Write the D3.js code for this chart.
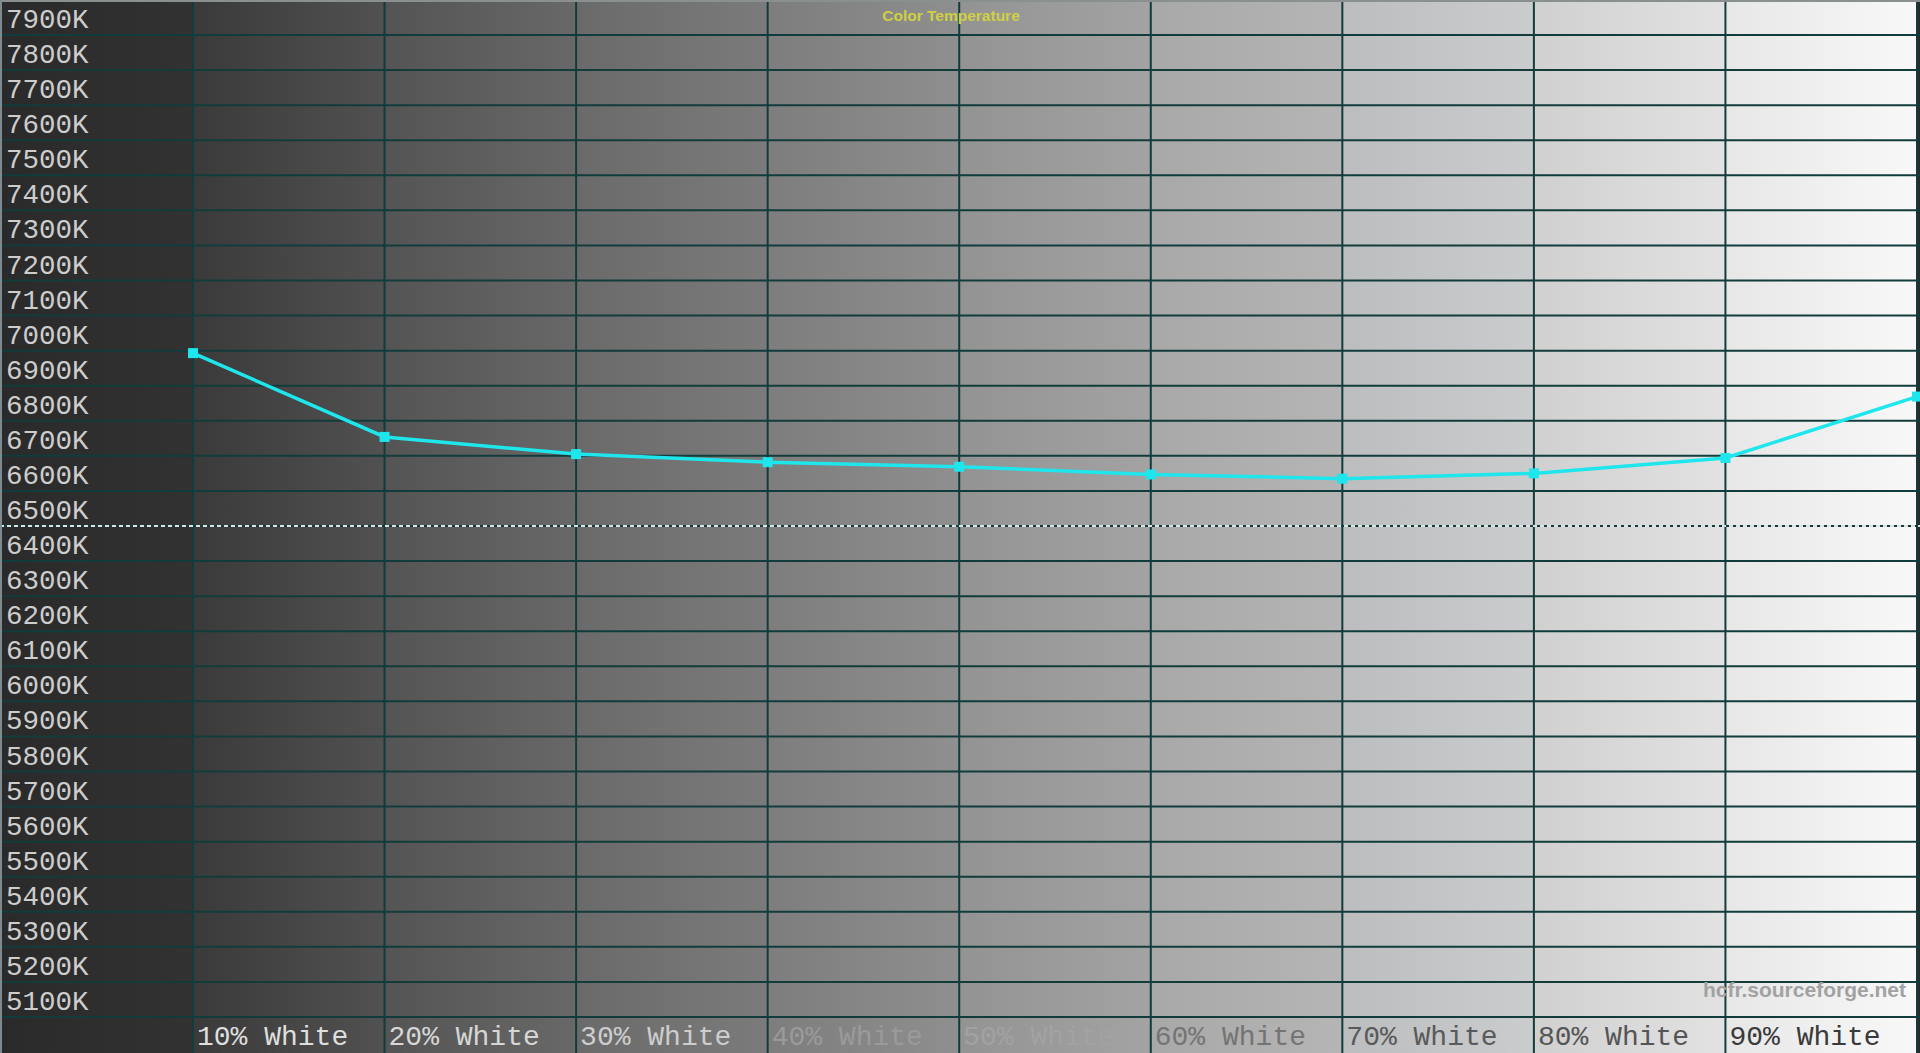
<!DOCTYPE html>
<html>
<head>
<meta charset="utf-8">
<script src="https://cdn.jsdelivr.net/npm/d3@7"></script>
<style>
  html, body { margin: 0; padding: 0; background: #2a2a2a; overflow: hidden; }
  svg { display: block; }
</style>
</head>
<body>
<svg width="1920" height="1053"></svg>
<script>
// measurement points (x axis)
const categories = ["10% White", "20% White", "30% White", "40% White", "50% White",
                    "60% White", "70% White", "80% White", "90% White", "100% White"];
// colour temperature, in K
const colorTemp = [6993, 6754, 6705, 6682, 6669, 6647, 6635, 6650, 6694, 6869];
// y tick labels
const yTicks = [5100, 5200, 5300, 5400, 5500, 5600, 5700, 5800, 5900, 6000,
                6100, 6200, 6300, 6400, 6500, 6600, 6700, 6800, 6900, 7000,
                7100, 7200, 7300, 7400, 7500, 7600, 7700, 7800, 7900, 8000];
const reference = 6500;

// grey steps of the background, one per column (left edge, right edge)
const bandColors = [
    ["#2a2a2a", "#323232"], ["#3a3a3a", "#515151"], ["#545454", "#686868"],
    ["#6a6a6a", "#7b7b7b"], ["#7d7d7d", "#8f8f8f"], ["#939393", "#a3a3a3"],
    ["#a8a8a8", "#b5b5b5"], ["#bbbdbe", "#cacccd"], ["#d0d0d0", "#e2e2e2"],
    ["#e7e7e7", "#f8f8f8"]
];
const labelColors = ["#dedede", "#d6d6d6", "#cdcdcd", "#9a9a9a", "#a2a2a2",
                     "#747474", "#5a5a5a", "#555555", "#3a3a3a"];

const W = 1920, H = 1053;
const svg = d3.select("svg");
const defs = svg.append("defs");

const x = d3.scalePoint()
    .domain(categories)
    .range([193, 1917]);

const y = d3.scaleLinear()
    .domain([5100, 7900])
    .range([1017, 35]);

// background bands
const edges = [0, ...categories.map(c => x(c))];
bandColors.forEach((c, i) => {
    const g = defs.append("linearGradient")
        .attr("id", "band" + i)
        .attr("x1", 0).attr("x2", 1).attr("y1", 0).attr("y2", 0);
    g.append("stop").attr("offset", 0).attr("stop-color", c[0]);
    g.append("stop").attr("offset", 1).attr("stop-color", c[1]);
});
svg.selectAll("rect.band")
    .data(bandColors)
    .enter()
    .append("rect")
    .attr("class", "band")
    .attr("x", (_, i) => edges[i])
    .attr("y", 0)
    .attr("width", (_, i) => (i + 1 < edges.length ? edges[i + 1] : W) - edges[i])
    .attr("height", H)
    .attr("fill", (_, i) => `url(#band${i})`);

// horizontal grid
svg.append("g")
    .selectAll("line")
    .data(yTicks)
    .enter()
    .append("line")
    .attr("x1", 0).attr("x2", W)
    .attr("y1", d => y(d)).attr("y2", d => y(d))
    .attr("stroke", "#123c3c")
    .attr("stroke-width", 2);

// vertical grid
svg.append("g")
    .selectAll("line")
    .data(categories)
    .enter()
    .append("line")
    .attr("x1", d => x(d)).attr("x2", d => x(d))
    .attr("y1", 0).attr("y2", H)
    .attr("stroke", "#123c3c")
    .attr("stroke-width", 2);

// 6500K reference, dashed
svg.append("line")
    .attr("x1", 0).attr("x2", W)
    .attr("y1", y(reference)).attr("y2", y(reference))
    .attr("stroke", "#f4f4f4")
    .attr("stroke-opacity", 0.9)
    .attr("stroke-width", 2)
    .attr("stroke-dasharray", "4,3");

// y labels sit just above their line
svg.append("g")
    .selectAll("text")
    .data(yTicks.filter(d => d <= 7900))
    .enter()
    .append("text")
    .attr("x", 6)
    .attr("y", d => y(d) - 7)
    .attr("font-family", "'Courier New', 'Liberation Mono', monospace")
    .attr("font-size", 27.5)
    .attr("fill", "#cdcdcd")
    .text(d => d + "K");

// x labels
svg.append("g")
    .selectAll("text")
    .data(categories.slice(0, 9))
    .enter()
    .append("text")
    .attr("x", d => x(d) + 4)
    .attr("y", 1045)
    .attr("font-family", "'Courier New', 'Liberation Mono', monospace")
    .attr("font-size", 28)
    .attr("fill", (_, i) => labelColors[i])
    .text(d => d);

// title
svg.append("text")
    .attr("x", 951)
    .attr("y", 21)
    .attr("text-anchor", "middle")
    .attr("font-family", "Arial, 'Liberation Sans', sans-serif")
    .attr("font-weight", "bold")
    .attr("font-size", 15.5)
    .attr("fill", "#cfd042")
    .text("Color Temperature");

// watermark
svg.append("text")
    .attr("x", 1906)
    .attr("y", 997)
    .attr("text-anchor", "end")
    .attr("font-family", "Arial, 'Liberation Sans', sans-serif")
    .attr("font-weight", "bold")
    .attr("font-size", 21)
    .attr("fill", "#a2a2a2")
    .text("hcfr.sourceforge.net");

// the series
const line = d3.line()
    .x((_, i) => x(categories[i]))
    .y(d => y(d));

svg.append("path")
    .datum(colorTemp)
    .attr("d", line)
    .attr("fill", "none")
    .attr("stroke", "#1ee6ec")
    .attr("stroke-width", 3.5);

svg.selectAll("rect.pt")
    .data(colorTemp)
    .enter()
    .append("rect")
    .attr("class", "pt")
    .attr("x", (_, i) => x(categories[i]) - 5)
    .attr("y", d => y(d) - 5)
    .attr("width", 10)
    .attr("height", 10)
    .attr("fill", "#1ee6ec");

// thin light frame on top and left
svg.append("line").attr("x1", 0).attr("x2", W).attr("y1", 1).attr("y2", 1)
    .attr("stroke", "#8a8f90").attr("stroke-width", 2);
svg.append("line").attr("x1", 1).attr("x2", 1).attr("y1", 0).attr("y2", H)
    .attr("stroke", "#7d8a90").attr("stroke-width", 2);
</script>
</body>
</html>
